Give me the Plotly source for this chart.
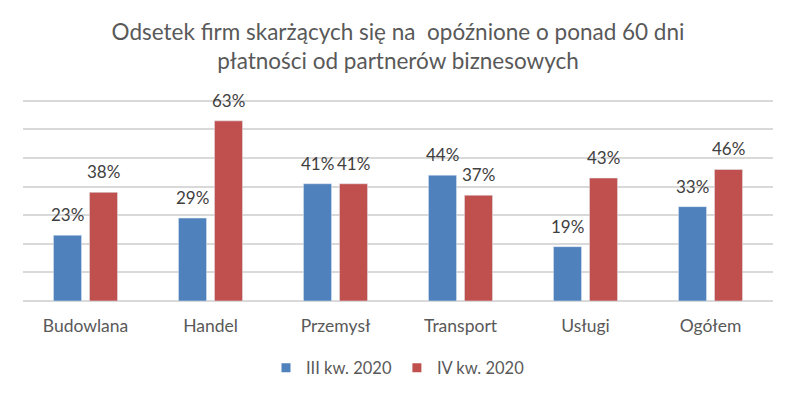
import plotly.graph_objects as go

categories = ["Budowlana", "Handel", "Przemysł", "Transport", "Usługi", "Ogółem"]
q3_values = [23, 29, 41, 44, 19, 33]
q4_values = [38, 63, 41, 37, 43, 46]
series_names = ["III kw. 2020", "IV kw. 2020"]
colors = ["#4F81BD", "#C0504D"]
title_text = "Odsetek firm skarżących się na\u00a0 opóźnione o ponad 60 dni<br>płatności od partnerów biznesowych"

FONT = "Lato"

fig = go.Figure()
for name, vals, col in zip(series_names, [q3_values, q4_values], colors):
    fig.add_trace(go.Bar(
        x=categories, y=vals, name=name, marker_color=col, showlegend=False,
    ))
    # legend entry with a small square marker
    fig.add_trace(go.Scatter(
        x=[None], y=[None], mode="markers", name=name,
        marker=dict(symbol="square", size=9, color=col),
    ))

# data labels above bars
for vals, shift in zip([q3_values, q4_values], [-18, 18]):
    for cat, v in zip(categories, vals):
        fig.add_annotation(
            x=cat, y=v, text=f"{v}%", showarrow=False,
            xshift=shift, yshift=8, yanchor="bottom",
            font=dict(family=FONT, size=17, color="#404040"),
        )

fig.update_layout(
    width=796, height=398,
    margin=dict(l=23, r=23, t=98, b=97),
    paper_bgcolor="white", plot_bgcolor="white",
    barmode="group", bargap=0.424, bargroupgap=0.22,
    title=dict(text=title_text, x=0.5, xanchor="center", y=0.9, yanchor="top",
               yref="container",
               font=dict(family=FONT, size=22.5, color="#595959")),
    xaxis=dict(showline=False, ticks="", ticklabelstandoff=12,
               tickfont=dict(family=FONT, size=17.5, color="#595959")),
    yaxis=dict(range=[0, 71], dtick=10, showticklabels=False, showgrid=True,
               gridcolor="#D9D9D9", gridwidth=1.5, zeroline=True,
               zerolinecolor="#D9D9D9", zerolinewidth=1.5),
    legend=dict(orientation="h", x=0.5, xanchor="center", y=-0.33, yanchor="middle",
                font=dict(family=FONT, size=16.5, color="#595959"),
                itemwidth=30, traceorder="normal"),
)

fig.write_html("out.html", config={"displayModeBar": False},
               post_script="document.body.style.margin='0';")
